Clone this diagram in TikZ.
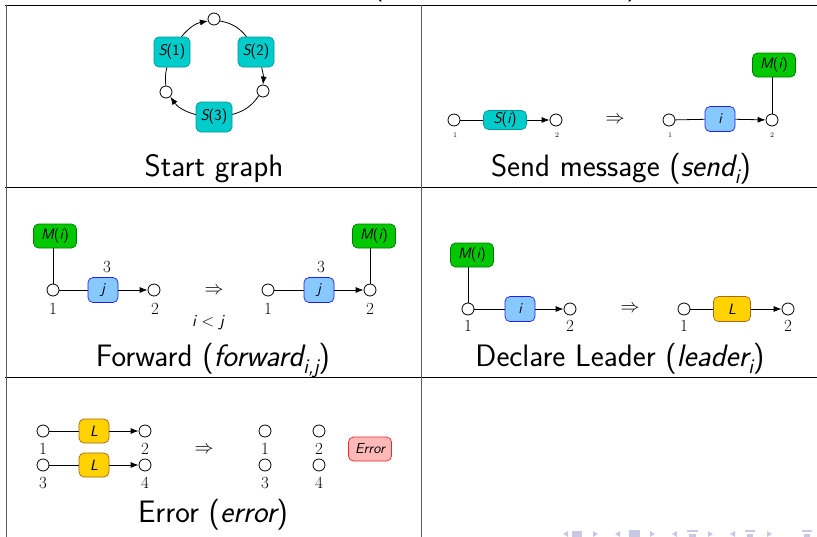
\documentclass[tikz,border=0pt]{standalone}
\usepackage{fix-cm}
\usepackage{fontspec}
\usetikzlibrary{arrows.meta}
\definecolor{scyan}{RGB}{0,204,204}
\definecolor{scyanD}{RGB}{0,150,150}
\definecolor{mgreen}{RGB}{0,200,0}
\definecolor{mgreenD}{RGB}{0,120,0}
\definecolor{pblue}{RGB}{135,200,255}
\definecolor{pblueD}{RGB}{30,30,255}
\definecolor{lgold}{RGB}{255,210,0}
\definecolor{lgoldD}{RGB}{170,100,30}
\definecolor{epink}{RGB}{255,185,185}
\definecolor{ered}{RGB}{240,40,40}
\definecolor{navc}{RGB}{200,200,228}
\newcommand\mysub[1]{\raisebox{-0.25em}{\fontsize{21}{21}\selectfont\itshape #1}}
\begin{document}
\begin{tikzpicture}[x=1pt,y=-1pt,
  vtx/.style={circle,draw,fill=white,inner sep=0pt,minimum size=12pt,line width=0.8pt},
  gbox/.style={rounded corners=5pt,draw,inner sep=0pt,line width=0.7pt,font=\sffamily\fontsize{15.5}{15.5}\selectfont},
  sbox/.style={gbox,fill=scyan,draw=scyanD},
  mbox/.style={gbox,fill=mgreen,draw=mgreenD,minimum width=43pt,minimum height=24pt,font=\sffamily\fontsize{15}{15}\selectfont},
  ibox/.style={gbox,fill=pblue,draw=pblueD,minimum width=30pt,minimum height=25pt,font=\sffamily\fontsize{15}{15}\selectfont},
  lbox/.style={gbox,fill=lgold,draw=lgoldD,minimum width=37pt,minimum height=25pt,font=\sffamily\fontsize{15}{15}\selectfont},
  ebox/.style={gbox,fill=epink,draw=ered,minimum width=43pt,minimum height=24pt,font=\sffamily\itshape\fontsize{14.5}{14.5}\selectfont},
  ln/.style={line width=0.8pt},
  arr/.style={ln,-{Latex[length=8pt,width=6pt]}},
  lab/.style={inner sep=0pt,font=\rmfamily\fontsize{17}{17}\selectfont},
  tlab/.style={inner sep=0pt,font=\rmfamily\fontsize{7}{7}\selectfont},
  impl/.style={inner sep=0pt,font=\fontsize{19}{19}\selectfont},
  captxt/.style={inner sep=0pt,anchor=base,font=\sffamily\fontsize{31}{32}\selectfont},
  tablerule/.style={line width=1pt},
  navsym/.style={fill=navc,draw=none}]
\useasboundingbox (0,0) rectangle (817,536);
% cut title fragments
\node[inner sep=0pt,anchor=base,font=\sffamily\fontsize{30}{30}\selectfont] (ttl1) at (378,-6) {(};
\node[inner sep=0pt,anchor=base,font=\sffamily\fontsize{30}{30}\selectfont] (ttl2) at (520,-7) {.};
\node[inner sep=0pt,anchor=base,font=\sffamily\fontsize{30}{30}\selectfont] (ttl3) at (632,-6) {)};
% table
\draw[tablerule] (5,5) -- (840,5);
\draw[tablerule] (5,187) -- (840,187);
\draw[tablerule] (5,377) -- (840,377);
\draw[tablerule,gray!70!black] (6,5) -- (6,540);
\draw[tablerule,gray!70!black] (421,5) -- (421,540);
% cell 1: start graph
\node[vtx] (t) at (214,19) {};
\node[vtx] (r) at (263,91) {};
\node[vtx] (l) at (166,92) {};
\node[sbox,minimum width=36pt,minimum height=30pt] (s1) at (172,52) {\itshape S\upshape(1)};
\node[sbox,minimum width=36pt,minimum height=30pt] (s2) at (256,52) {\itshape S\upshape(2)};
\node[sbox,minimum width=36pt,minimum height=30pt] (s3) at (214,117) {\itshape S\upshape(3)};
\draw[arr] (s1) to[bend left=20] (t);
\draw[ln] (t) to[bend left=20] (s2);
\draw[arr] (s2) to[bend left=10] (r);
\draw[ln] (r) to[bend left=20] (s3);
\draw[arr] (s3) to[bend left=20] (l);
\draw[ln] (l) to[bend left=10] (s1);
\node[captxt] (c1) at (214,176) {Start graph};
% cell 2: send message
\node[vtx] (a1) at (454,120) {};
\node[vtx] (a2) at (556,120) {};
\node[sbox,minimum width=43pt,minimum height=19pt] (asi) at (505,120) {\itshape S\upshape(\itshape i\upshape)};
\node[tlab] (la1) at (455,135) {1};
\node[tlab] (la2) at (557,135) {2};
\draw[ln] (a1) -- (asi);
\draw[arr] (asi) -- (a2);
\node[impl] (imp1) at (615,120) {$\Rightarrow$};
\node[vtx] (b1) at (669,120) {};
\node[vtx] (b2) at (772,120) {};
\node[ibox] (bi) at (720,119) {\itshape i};
\node[mbox] (bm) at (774,65) {\itshape M\upshape(\itshape i\upshape)};
\node[tlab] (lb1) at (670,135) {1};
\node[tlab] (lb2) at (772,135) {2};
\draw[ln] (b1) -- (bi);
\draw[arr] (bi) -- (b2);
\draw[ln] (b2 |- bm.south) -- (b2);
\node[captxt] (c2) at (621,176) {Send message ({\itshape send}\mysub{i})};
% cell 3: forward
\node[vtx] (d1) at (53,290) {};
\node[vtx] (d2) at (154,290) {};
\node[ibox] (dj) at (103,290) {\itshape j};
\node[mbox] (dm) at (55,236) {\itshape M\upshape(\itshape i\upshape)};
\node[lab] (ld3) at (107,267) {3};
\node[lab,anchor=north] (ld1) at (53,303) {1};
\node[lab,anchor=north] (ld2) at (155,303) {2};
\draw[ln] (d1 |- dm.south) -- (d1);
\draw[ln] (d1) -- (dj);
\draw[arr] (dj) -- (d2);
\node[impl] (imp2) at (214,291) {$\Rightarrow$};
\node[inner sep=0pt,font=\sffamily\fontsize{17}{17}\selectfont] (cond) at (208,323) {\itshape i \upshape$<$ \itshape j};
\node[vtx] (e1) at (268,290) {};
\node[vtx] (e2) at (370,290) {};
\node[ibox] (ej) at (319,290) {\itshape j};
\node[mbox] (em) at (374,236) {\itshape M\upshape(\itshape i\upshape)};
\node[lab] (le3) at (321,267) {3};
\node[lab,anchor=north] (le1) at (268,303) {1};
\node[lab,anchor=north] (le2) at (370,303) {2};
\draw[ln] (e1) -- (ej);
\draw[arr] (ej) -- (e2);
\draw[ln] (e2 |- em.south) -- (e2);
\node[captxt] (c3) at (213,366) {Forward ({\itshape forward}\mysub{i,j})};
% cell 4: declare leader
\node[vtx] (f1) at (468,309) {};
\node[vtx] (f2) at (570,309) {};
\node[ibox] (fi) at (520,309) {\itshape i};
\node[mbox] (fm) at (472,255) {\itshape M\upshape(\itshape i\upshape)};
\node[lab,anchor=north] (lf1) at (468,320) {1};
\node[lab,anchor=north] (lf2) at (570,320) {2};
\draw[ln] (f1 |- fm.south) -- (f1);
\draw[ln] (f1) -- (fi);
\draw[arr] (fi) -- (f2);
\node[impl] (imp3) at (630,309) {$\Rightarrow$};
\node[vtx] (g1) at (684,309) {};
\node[vtx] (g2) at (788,309) {};
\node[lbox] (gl) at (732,309) {\itshape L};
\node[lab,anchor=north] (lg1) at (684,320) {1};
\node[lab,anchor=north] (lg2) at (788,320) {2};
\draw[ln] (g1) -- (gl);
\draw[arr] (gl) -- (g2);
\node[captxt] (c4) at (620,366) {Declare Leader ({\itshape leader}\mysub{i})};
% cell 5: error
\node[vtx] (h1) at (43,431) {};
\node[vtx] (h2) at (145,431) {};
\node[vtx] (h3) at (43,465) {};
\node[vtx] (h4) at (145,465) {};
\node[lbox,minimum width=30pt,minimum height=24pt] (hl1) at (94,431) {\itshape L};
\node[lbox,minimum width=30pt,minimum height=24pt] (hl2) at (94,465) {\itshape L};
\node[lab,anchor=north] (lh1) at (43,443) {1};
\node[lab,anchor=north] (lh2) at (145,443) {2};
\node[lab,anchor=north] (lh3) at (43,477) {3};
\node[lab,anchor=north] (lh4) at (145,477) {4};
\draw[ln] (h1) -- (hl1);
\draw[arr] (hl1) -- (h2);
\draw[ln] (h3) -- (hl2);
\draw[arr] (hl2) -- (h4);
\node[impl] (imp4) at (204,450) {$\Rightarrow$};
\node[vtx] (k1) at (265,431) {};
\node[vtx] (k2) at (319,431) {};
\node[vtx] (k3) at (265,465) {};
\node[vtx] (k4) at (319,465) {};
\node[lab,anchor=north] (lk1) at (265,443) {1};
\node[lab,anchor=north] (lk2) at (319,443) {2};
\node[lab,anchor=north] (lk3) at (265,477) {3};
\node[lab,anchor=north] (lk4) at (319,477) {4};
\node[ebox] (err) at (370,449) {Error};
\node[captxt] (c5) at (213,522) {Error ({\itshape error})};
% navigation symbols (cut)
\fill[navsym] (568,531) -- (563,534) -- (568,537) -- cycle;
\fill[navsym] (572,531) rectangle (582,538);
\fill[navsym] (593,531) -- (598,534) -- (593,537) -- cycle;
\fill[navsym] (620,531) -- (615,534) -- (620,537) -- cycle;
\fill[navsym] (629,530) rectangle (640,538);
\fill[navsym] (650,531) -- (655,534) -- (650,537) -- cycle;
\fill[navsym] (677,531) -- (672,534) -- (677,537) -- cycle;
\fill[navsym] (687,530) rectangle (698,532);
\fill[navsym] (689,534) rectangle (696,538);
\fill[navsym] (708,531) -- (713,534) -- (708,537) -- cycle;
\fill[navsym] (735,531) -- (730,534) -- (735,537) -- cycle;
\fill[navsym] (745,530) rectangle (755,532);
\fill[navsym] (747,534) rectangle (753,538);
\fill[navsym] (767,531) -- (772,534) -- (767,537) -- cycle;
\fill[navsym] (802,530) rectangle (812,532);
\fill[navsym] (804,534) rectangle (810,538);
\end{tikzpicture}
\end{document}
